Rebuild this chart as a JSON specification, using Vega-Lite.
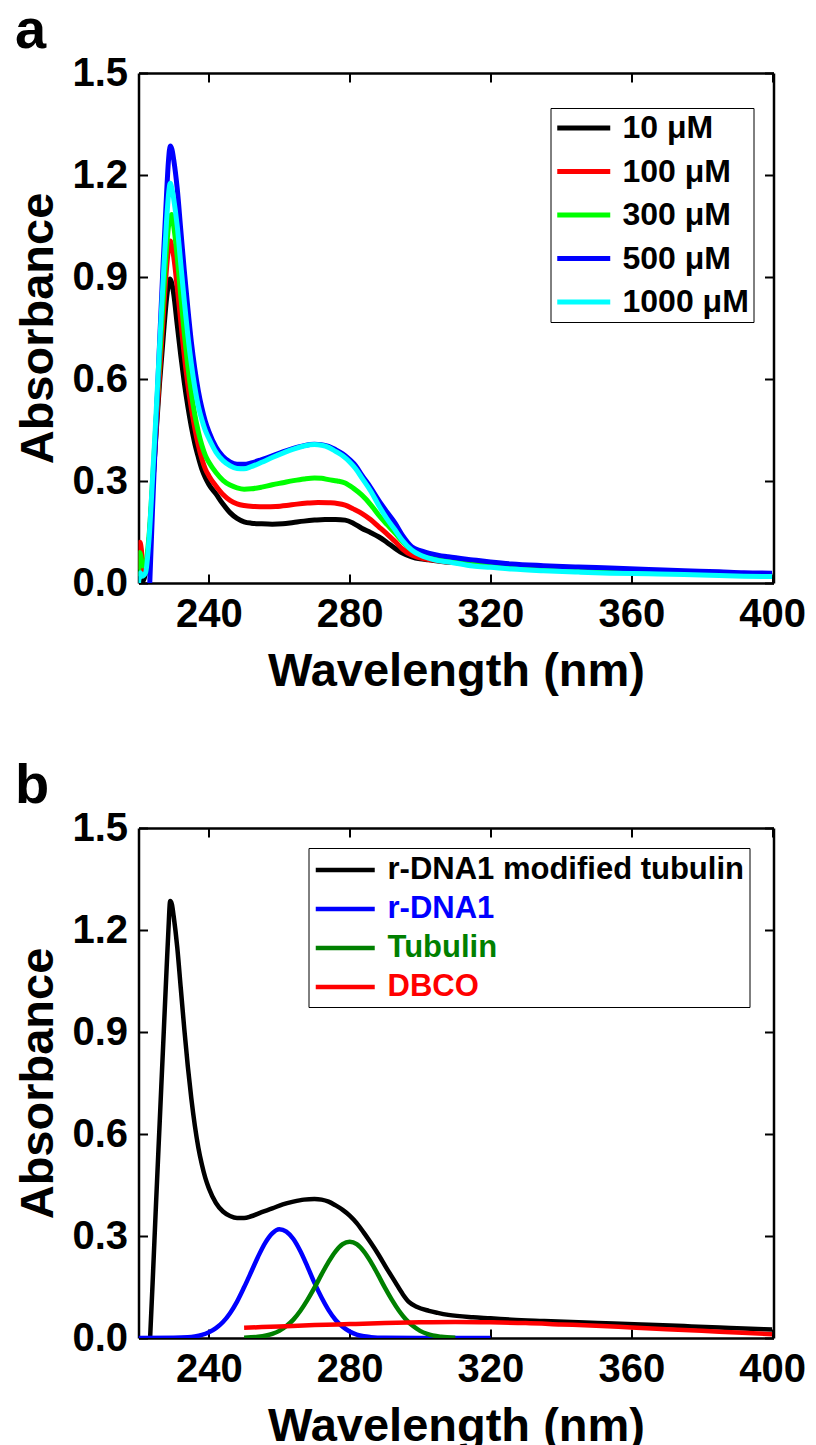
{
  "$schema": "https://vega.github.io/schema/vega-lite/v6.json",
  "padding": {"left": 14.5, "top": 3, "right": 5, "bottom": 0},
  "background": "white",
  "config": {
    "font": "Liberation Sans",
    "view": {"stroke": null},
    "axis": {
      "domainColor": "black", "domainWidth": 2.5, "tickColor": "black", "tickWidth": 2, "tickSize": -9,
      "grid": false, "labelFont": "Liberation Sans", "labelFontSize": 40, "labelFontWeight": "bold", "labelColor": "black",
      "titleFont": "Liberation Sans", "titleFontSize": 47, "titleFontWeight": "bold", "titleColor": "black",
      "labelPadding": 20, "zindex": 1
    },
    "axisX": {"titlePadding": 14, "labelFlush": false},
    "axisY": {"titlePadding": 9},
    "title": {"font": "Liberation Sans", "fontSize": 56, "fontWeight": "bold", "color": "black", "anchor": "start", "frame": "bounds", "offset": -7}
  },
  "resolve": {"scale": {"color": "independent"}, "legend": {"color": "independent"}},
  "spacing": 64,
  "datasets": {
    "a": [
      {"nm":221,"A":0.0,"s":"10 μM"},{"nm":222,"A":0.03,"s":"10 μM"},{"nm":223,"A":0.12,"s":"10 μM"},{"nm":224,"A":0.28,"s":"10 μM"},{"nm":225,"A":0.44,"s":"10 μM"},{"nm":226,"A":0.59,"s":"10 μM"},{"nm":227,"A":0.72,"s":"10 μM"},{"nm":228,"A":0.84,"s":"10 μM"},{"nm":228.6,"A":0.885,"s":"10 μM"},{"nm":229,"A":0.894,"s":"10 μM"},{"nm":229.5,"A":0.88,"s":"10 μM"},{"nm":230,"A":0.85,"s":"10 μM"},{"nm":231,"A":0.76,"s":"10 μM"},{"nm":232,"A":0.67,"s":"10 μM"},{"nm":233,"A":0.59,"s":"10 μM"},{"nm":234,"A":0.52,"s":"10 μM"},{"nm":235,"A":0.46,"s":"10 μM"},{"nm":236,"A":0.41,"s":"10 μM"},{"nm":237,"A":0.37,"s":"10 μM"},{"nm":238,"A":0.335,"s":"10 μM"},{"nm":239,"A":0.31,"s":"10 μM"},{"nm":240,"A":0.29,"s":"10 μM"},{"nm":242,"A":0.262,"s":"10 μM"},{"nm":244,"A":0.232,"s":"10 μM"},{"nm":246,"A":0.207,"s":"10 μM"},{"nm":248,"A":0.19,"s":"10 μM"},{"nm":250,"A":0.18,"s":"10 μM"},{"nm":252,"A":0.176,"s":"10 μM"},{"nm":255,"A":0.174,"s":"10 μM"},{"nm":258,"A":0.173,"s":"10 μM"},{"nm":261,"A":0.174,"s":"10 μM"},{"nm":264,"A":0.178,"s":"10 μM"},{"nm":267,"A":0.182,"s":"10 μM"},{"nm":270,"A":0.185,"s":"10 μM"},{"nm":273,"A":0.187,"s":"10 μM"},{"nm":276,"A":0.187,"s":"10 μM"},{"nm":278.7,"A":0.185,"s":"10 μM"},{"nm":281,"A":0.176,"s":"10 μM"},{"nm":283.4,"A":0.161,"s":"10 μM"},{"nm":286,"A":0.148,"s":"10 μM"},{"nm":288.2,"A":0.136,"s":"10 μM"},{"nm":290.5,"A":0.12,"s":"10 μM"},{"nm":292.9,"A":0.102,"s":"10 μM"},{"nm":295,"A":0.088,"s":"10 μM"},{"nm":297.6,"A":0.077,"s":"10 μM"},{"nm":300,"A":0.071,"s":"10 μM"},{"nm":302.4,"A":0.068,"s":"10 μM"},{"nm":306,"A":0.063,"s":"10 μM"},{"nm":310,"A":0.06,"s":"10 μM"},{"nm":315,"A":0.057,"s":"10 μM"},{"nm":320,"A":0.055,"s":"10 μM"},{"nm":330,"A":0.05,"s":"10 μM"},{"nm":340,"A":0.046,"s":"10 μM"},{"nm":350,"A":0.041,"s":"10 μM"},{"nm":360,"A":0.037,"s":"10 μM"},{"nm":370,"A":0.033,"s":"10 μM"},{"nm":380,"A":0.029,"s":"10 μM"},{"nm":390,"A":0.025,"s":"10 μM"},{"nm":400,"A":0.022,"s":"10 μM"},

      {"nm":220,"A":0.04,"s":"100 μM"},{"nm":220.4,"A":0.12,"s":"100 μM"},{"nm":220.8,"A":0.1,"s":"100 μM"},{"nm":221.2,"A":0.05,"s":"100 μM"},{"nm":221.6,"A":0.03,"s":"100 μM"},{"nm":222,"A":0.04,"s":"100 μM"},{"nm":223,"A":0.12,"s":"100 μM"},{"nm":224,"A":0.28,"s":"100 μM"},{"nm":225,"A":0.45,"s":"100 μM"},{"nm":226,"A":0.62,"s":"100 μM"},{"nm":227,"A":0.78,"s":"100 μM"},{"nm":228,"A":0.93,"s":"100 μM"},{"nm":228.6,"A":0.99,"s":"100 μM"},{"nm":229,"A":1.006,"s":"100 μM"},{"nm":229.5,"A":0.99,"s":"100 μM"},{"nm":230,"A":0.96,"s":"100 μM"},{"nm":231,"A":0.87,"s":"100 μM"},{"nm":232,"A":0.77,"s":"100 μM"},{"nm":233,"A":0.67,"s":"100 μM"},{"nm":234,"A":0.585,"s":"100 μM"},{"nm":235,"A":0.515,"s":"100 μM"},{"nm":236,"A":0.455,"s":"100 μM"},{"nm":237,"A":0.405,"s":"100 μM"},{"nm":238,"A":0.365,"s":"100 μM"},{"nm":239,"A":0.335,"s":"100 μM"},{"nm":240,"A":0.315,"s":"100 μM"},{"nm":242,"A":0.285,"s":"100 μM"},{"nm":244,"A":0.26,"s":"100 μM"},{"nm":246,"A":0.243,"s":"100 μM"},{"nm":248,"A":0.233,"s":"100 μM"},{"nm":250,"A":0.228,"s":"100 μM"},{"nm":253,"A":0.225,"s":"100 μM"},{"nm":256,"A":0.224,"s":"100 μM"},{"nm":259,"A":0.225,"s":"100 μM"},{"nm":262,"A":0.228,"s":"100 μM"},{"nm":265,"A":0.232,"s":"100 μM"},{"nm":268,"A":0.235,"s":"100 μM"},{"nm":271,"A":0.237,"s":"100 μM"},{"nm":274,"A":0.236,"s":"100 μM"},{"nm":276.5,"A":0.234,"s":"100 μM"},{"nm":278.7,"A":0.229,"s":"100 μM"},{"nm":281,"A":0.218,"s":"100 μM"},{"nm":283.4,"A":0.205,"s":"100 μM"},{"nm":286,"A":0.186,"s":"100 μM"},{"nm":288.2,"A":0.166,"s":"100 μM"},{"nm":290.5,"A":0.145,"s":"100 μM"},{"nm":292.9,"A":0.122,"s":"100 μM"},{"nm":295,"A":0.1,"s":"100 μM"},{"nm":297.6,"A":0.082,"s":"100 μM"},{"nm":300,"A":0.074,"s":"100 μM"},{"nm":303,"A":0.068,"s":"100 μM"},{"nm":306,"A":0.064,"s":"100 μM"},{"nm":310,"A":0.06,"s":"100 μM"},{"nm":315,"A":0.057,"s":"100 μM"},{"nm":320,"A":0.054,"s":"100 μM"},{"nm":330,"A":0.049,"s":"100 μM"},{"nm":340,"A":0.045,"s":"100 μM"},{"nm":350,"A":0.04,"s":"100 μM"},{"nm":360,"A":0.036,"s":"100 μM"},{"nm":370,"A":0.032,"s":"100 μM"},{"nm":380,"A":0.028,"s":"100 μM"},{"nm":390,"A":0.024,"s":"100 μM"},{"nm":400,"A":0.021,"s":"100 μM"},

      {"nm":220,"A":0.02,"s":"300 μM"},{"nm":220.4,"A":0.09,"s":"300 μM"},{"nm":220.8,"A":0.07,"s":"300 μM"},{"nm":221.2,"A":0.05,"s":"300 μM"},{"nm":221.6,"A":0.06,"s":"300 μM"},{"nm":222,"A":0.06,"s":"300 μM"},{"nm":223,"A":0.14,"s":"300 μM"},{"nm":224,"A":0.3,"s":"300 μM"},{"nm":225,"A":0.48,"s":"300 μM"},{"nm":226,"A":0.66,"s":"300 μM"},{"nm":227,"A":0.83,"s":"300 μM"},{"nm":228,"A":0.99,"s":"300 μM"},{"nm":228.8,"A":1.07,"s":"300 μM"},{"nm":229.4,"A":1.084,"s":"300 μM"},{"nm":230,"A":1.05,"s":"300 μM"},{"nm":231,"A":0.96,"s":"300 μM"},{"nm":232,"A":0.845,"s":"300 μM"},{"nm":233,"A":0.735,"s":"300 μM"},{"nm":234,"A":0.64,"s":"300 μM"},{"nm":235,"A":0.56,"s":"300 μM"},{"nm":236,"A":0.495,"s":"300 μM"},{"nm":237,"A":0.445,"s":"300 μM"},{"nm":238,"A":0.405,"s":"300 μM"},{"nm":239,"A":0.375,"s":"300 μM"},{"nm":240,"A":0.355,"s":"300 μM"},{"nm":242,"A":0.325,"s":"300 μM"},{"nm":244,"A":0.302,"s":"300 μM"},{"nm":246,"A":0.288,"s":"300 μM"},{"nm":248,"A":0.28,"s":"300 μM"},{"nm":250,"A":0.276,"s":"300 μM"},{"nm":252,"A":0.277,"s":"300 μM"},{"nm":255,"A":0.282,"s":"300 μM"},{"nm":258,"A":0.289,"s":"300 μM"},{"nm":261,"A":0.295,"s":"300 μM"},{"nm":264,"A":0.301,"s":"300 μM"},{"nm":267,"A":0.306,"s":"300 μM"},{"nm":270,"A":0.309,"s":"300 μM"},{"nm":272,"A":0.308,"s":"300 μM"},{"nm":274,"A":0.304,"s":"300 μM"},{"nm":276.5,"A":0.3,"s":"300 μM"},{"nm":278.7,"A":0.294,"s":"300 μM"},{"nm":281,"A":0.279,"s":"300 μM"},{"nm":283.4,"A":0.259,"s":"300 μM"},{"nm":286,"A":0.23,"s":"300 μM"},{"nm":288.2,"A":0.2,"s":"300 μM"},{"nm":290.5,"A":0.173,"s":"300 μM"},{"nm":292.9,"A":0.147,"s":"300 μM"},{"nm":295,"A":0.122,"s":"300 μM"},{"nm":297.6,"A":0.097,"s":"300 μM"},{"nm":300,"A":0.084,"s":"300 μM"},{"nm":303,"A":0.074,"s":"300 μM"},{"nm":306,"A":0.068,"s":"300 μM"},{"nm":310,"A":0.063,"s":"300 μM"},{"nm":315,"A":0.058,"s":"300 μM"},{"nm":320,"A":0.055,"s":"300 μM"},{"nm":330,"A":0.05,"s":"300 μM"},{"nm":340,"A":0.045,"s":"300 μM"},{"nm":350,"A":0.04,"s":"300 μM"},{"nm":360,"A":0.036,"s":"300 μM"},{"nm":370,"A":0.032,"s":"300 μM"},{"nm":380,"A":0.029,"s":"300 μM"},{"nm":390,"A":0.025,"s":"300 μM"},{"nm":400,"A":0.022,"s":"300 μM"},

      {"nm":223.2,"A":0.0,"s":"500 μM"},{"nm":224,"A":0.22,"s":"500 μM"},{"nm":225,"A":0.47,"s":"500 μM"},{"nm":226,"A":0.71,"s":"500 μM"},{"nm":227,"A":0.94,"s":"500 μM"},{"nm":228,"A":1.15,"s":"500 μM"},{"nm":228.5,"A":1.24,"s":"500 μM"},{"nm":229,"A":1.285,"s":"500 μM"},{"nm":229.5,"A":1.275,"s":"500 μM"},{"nm":230,"A":1.245,"s":"500 μM"},{"nm":231,"A":1.16,"s":"500 μM"},{"nm":232,"A":1.04,"s":"500 μM"},{"nm":233,"A":0.92,"s":"500 μM"},{"nm":234,"A":0.81,"s":"500 μM"},{"nm":235,"A":0.71,"s":"500 μM"},{"nm":236,"A":0.63,"s":"500 μM"},{"nm":237,"A":0.565,"s":"500 μM"},{"nm":238,"A":0.515,"s":"500 μM"},{"nm":239,"A":0.475,"s":"500 μM"},{"nm":240,"A":0.445,"s":"500 μM"},{"nm":242,"A":0.4,"s":"500 μM"},{"nm":244,"A":0.372,"s":"500 μM"},{"nm":246,"A":0.356,"s":"500 μM"},{"nm":248,"A":0.349,"s":"500 μM"},{"nm":250,"A":0.349,"s":"500 μM"},{"nm":252,"A":0.353,"s":"500 μM"},{"nm":255,"A":0.363,"s":"500 μM"},{"nm":258,"A":0.374,"s":"500 μM"},{"nm":261,"A":0.386,"s":"500 μM"},{"nm":264,"A":0.396,"s":"500 μM"},{"nm":267,"A":0.404,"s":"500 μM"},{"nm":270,"A":0.408,"s":"500 μM"},{"nm":272,"A":0.407,"s":"500 μM"},{"nm":274,"A":0.402,"s":"500 μM"},{"nm":276,"A":0.392,"s":"500 μM"},{"nm":278,"A":0.38,"s":"500 μM"},{"nm":280,"A":0.363,"s":"500 μM"},{"nm":281.7,"A":0.345,"s":"500 μM"},{"nm":283.4,"A":0.318,"s":"500 μM"},{"nm":286,"A":0.28,"s":"500 μM"},{"nm":288.2,"A":0.244,"s":"500 μM"},{"nm":290.5,"A":0.21,"s":"500 μM"},{"nm":292.9,"A":0.176,"s":"500 μM"},{"nm":295,"A":0.14,"s":"500 μM"},{"nm":297.6,"A":0.107,"s":"500 μM"},{"nm":300,"A":0.095,"s":"500 μM"},{"nm":302.4,"A":0.088,"s":"500 μM"},{"nm":305,"A":0.082,"s":"500 μM"},{"nm":308,"A":0.077,"s":"500 μM"},{"nm":315,"A":0.068,"s":"500 μM"},{"nm":320,"A":0.062,"s":"500 μM"},{"nm":326,"A":0.056,"s":"500 μM"},{"nm":335,"A":0.051,"s":"500 μM"},{"nm":345,"A":0.047,"s":"500 μM"},{"nm":354,"A":0.044,"s":"500 μM"},{"nm":365,"A":0.04,"s":"500 μM"},{"nm":375,"A":0.036,"s":"500 μM"},{"nm":385,"A":0.033,"s":"500 μM"},{"nm":392,"A":0.03,"s":"500 μM"},{"nm":400,"A":0.029,"s":"500 μM"},

      {"nm":220,"A":0.0,"s":"1000 μM"},{"nm":220.5,"A":0.03,"s":"1000 μM"},{"nm":221,"A":0.02,"s":"1000 μM"},{"nm":222,"A":0.03,"s":"1000 μM"},{"nm":223,"A":0.13,"s":"1000 μM"},{"nm":224,"A":0.31,"s":"1000 μM"},{"nm":225,"A":0.5,"s":"1000 μM"},{"nm":226,"A":0.7,"s":"1000 μM"},{"nm":227,"A":0.89,"s":"1000 μM"},{"nm":228,"A":1.07,"s":"1000 μM"},{"nm":228.6,"A":1.15,"s":"1000 μM"},{"nm":229,"A":1.176,"s":"1000 μM"},{"nm":229.5,"A":1.16,"s":"1000 μM"},{"nm":230,"A":1.13,"s":"1000 μM"},{"nm":231,"A":1.05,"s":"1000 μM"},{"nm":232,"A":0.94,"s":"1000 μM"},{"nm":233,"A":0.83,"s":"1000 μM"},{"nm":234,"A":0.73,"s":"1000 μM"},{"nm":235,"A":0.645,"s":"1000 μM"},{"nm":236,"A":0.575,"s":"1000 μM"},{"nm":237,"A":0.52,"s":"1000 μM"},{"nm":238,"A":0.48,"s":"1000 μM"},{"nm":239,"A":0.448,"s":"1000 μM"},{"nm":240,"A":0.425,"s":"1000 μM"},{"nm":242,"A":0.385,"s":"1000 μM"},{"nm":244,"A":0.36,"s":"1000 μM"},{"nm":246,"A":0.345,"s":"1000 μM"},{"nm":248,"A":0.337,"s":"1000 μM"},{"nm":250,"A":0.336,"s":"1000 μM"},{"nm":252,"A":0.342,"s":"1000 μM"},{"nm":255,"A":0.355,"s":"1000 μM"},{"nm":258,"A":0.369,"s":"1000 μM"},{"nm":261,"A":0.382,"s":"1000 μM"},{"nm":264,"A":0.394,"s":"1000 μM"},{"nm":267,"A":0.403,"s":"1000 μM"},{"nm":270,"A":0.407,"s":"1000 μM"},{"nm":272,"A":0.405,"s":"1000 μM"},{"nm":274,"A":0.399,"s":"1000 μM"},{"nm":276,"A":0.387,"s":"1000 μM"},{"nm":278,"A":0.374,"s":"1000 μM"},{"nm":280,"A":0.356,"s":"1000 μM"},{"nm":281.7,"A":0.336,"s":"1000 μM"},{"nm":283.4,"A":0.31,"s":"1000 μM"},{"nm":286,"A":0.27,"s":"1000 μM"},{"nm":288.2,"A":0.229,"s":"1000 μM"},{"nm":290.5,"A":0.19,"s":"1000 μM"},{"nm":292.9,"A":0.156,"s":"1000 μM"},{"nm":295,"A":0.125,"s":"1000 μM"},{"nm":297.6,"A":0.097,"s":"1000 μM"},{"nm":300,"A":0.082,"s":"1000 μM"},{"nm":302.4,"A":0.073,"s":"1000 μM"},{"nm":305,"A":0.066,"s":"1000 μM"},{"nm":308,"A":0.062,"s":"1000 μM"},{"nm":315,"A":0.05,"s":"1000 μM"},{"nm":320,"A":0.046,"s":"1000 μM"},{"nm":326,"A":0.041,"s":"1000 μM"},{"nm":335,"A":0.036,"s":"1000 μM"},{"nm":345,"A":0.032,"s":"1000 μM"},{"nm":354,"A":0.029,"s":"1000 μM"},{"nm":365,"A":0.027,"s":"1000 μM"},{"nm":375,"A":0.025,"s":"1000 μM"},{"nm":385,"A":0.022,"s":"1000 μM"},{"nm":392,"A":0.02,"s":"1000 μM"},{"nm":400,"A":0.019,"s":"1000 μM"}
    ],
    "b": [
      {"nm":223.3,"A":0.0,"s":"r-DNA1 modified tubulin"},{"nm":224,"A":0.16,"s":"r-DNA1 modified tubulin"},{"nm":225,"A":0.4,"s":"r-DNA1 modified tubulin"},{"nm":226,"A":0.63,"s":"r-DNA1 modified tubulin"},{"nm":227,"A":0.86,"s":"r-DNA1 modified tubulin"},{"nm":228,"A":1.09,"s":"r-DNA1 modified tubulin"},{"nm":228.5,"A":1.2,"s":"r-DNA1 modified tubulin"},{"nm":229,"A":1.285,"s":"r-DNA1 modified tubulin"},{"nm":229.5,"A":1.275,"s":"r-DNA1 modified tubulin"},{"nm":230,"A":1.24,"s":"r-DNA1 modified tubulin"},{"nm":231,"A":1.15,"s":"r-DNA1 modified tubulin"},{"nm":232,"A":1.03,"s":"r-DNA1 modified tubulin"},{"nm":233,"A":0.91,"s":"r-DNA1 modified tubulin"},{"nm":234,"A":0.8,"s":"r-DNA1 modified tubulin"},{"nm":235,"A":0.705,"s":"r-DNA1 modified tubulin"},{"nm":236,"A":0.625,"s":"r-DNA1 modified tubulin"},{"nm":237,"A":0.56,"s":"r-DNA1 modified tubulin"},{"nm":238,"A":0.51,"s":"r-DNA1 modified tubulin"},{"nm":239,"A":0.47,"s":"r-DNA1 modified tubulin"},{"nm":240,"A":0.44,"s":"r-DNA1 modified tubulin"},{"nm":242,"A":0.397,"s":"r-DNA1 modified tubulin"},{"nm":244,"A":0.372,"s":"r-DNA1 modified tubulin"},{"nm":246,"A":0.359,"s":"r-DNA1 modified tubulin"},{"nm":248,"A":0.353,"s":"r-DNA1 modified tubulin"},{"nm":250,"A":0.353,"s":"r-DNA1 modified tubulin"},{"nm":252,"A":0.358,"s":"r-DNA1 modified tubulin"},{"nm":255,"A":0.37,"s":"r-DNA1 modified tubulin"},{"nm":258,"A":0.381,"s":"r-DNA1 modified tubulin"},{"nm":261,"A":0.393,"s":"r-DNA1 modified tubulin"},{"nm":264,"A":0.401,"s":"r-DNA1 modified tubulin"},{"nm":267,"A":0.407,"s":"r-DNA1 modified tubulin"},{"nm":270,"A":0.409,"s":"r-DNA1 modified tubulin"},{"nm":272,"A":0.407,"s":"r-DNA1 modified tubulin"},{"nm":274,"A":0.401,"s":"r-DNA1 modified tubulin"},{"nm":276,"A":0.39,"s":"r-DNA1 modified tubulin"},{"nm":278,"A":0.377,"s":"r-DNA1 modified tubulin"},{"nm":280,"A":0.36,"s":"r-DNA1 modified tubulin"},{"nm":282,"A":0.338,"s":"r-DNA1 modified tubulin"},{"nm":284,"A":0.31,"s":"r-DNA1 modified tubulin"},{"nm":286,"A":0.28,"s":"r-DNA1 modified tubulin"},{"nm":288.2,"A":0.245,"s":"r-DNA1 modified tubulin"},{"nm":290.5,"A":0.205,"s":"r-DNA1 modified tubulin"},{"nm":292.9,"A":0.165,"s":"r-DNA1 modified tubulin"},{"nm":295,"A":0.13,"s":"r-DNA1 modified tubulin"},{"nm":296.8,"A":0.106,"s":"r-DNA1 modified tubulin"},{"nm":299,"A":0.092,"s":"r-DNA1 modified tubulin"},{"nm":302.5,"A":0.08,"s":"r-DNA1 modified tubulin"},{"nm":305,"A":0.074,"s":"r-DNA1 modified tubulin"},{"nm":308,"A":0.068,"s":"r-DNA1 modified tubulin"},{"nm":315,"A":0.061,"s":"r-DNA1 modified tubulin"},{"nm":320,"A":0.058,"s":"r-DNA1 modified tubulin"},{"nm":326,"A":0.054,"s":"r-DNA1 modified tubulin"},{"nm":335,"A":0.05,"s":"r-DNA1 modified tubulin"},{"nm":345,"A":0.046,"s":"r-DNA1 modified tubulin"},{"nm":355,"A":0.043,"s":"r-DNA1 modified tubulin"},{"nm":365,"A":0.039,"s":"r-DNA1 modified tubulin"},{"nm":375,"A":0.035,"s":"r-DNA1 modified tubulin"},{"nm":385,"A":0.031,"s":"r-DNA1 modified tubulin"},{"nm":392,"A":0.028,"s":"r-DNA1 modified tubulin"},{"nm":400,"A":0.025,"s":"r-DNA1 modified tubulin"},

      {"nm":220,"A":0.0,"s":"r-DNA1"},{"nm":230,"A":0.0004,"s":"r-DNA1"},{"nm":234,"A":0.002,"s":"r-DNA1"},{"nm":236,"A":0.0045,"s":"r-DNA1"},{"nm":238,"A":0.009,"s":"r-DNA1"},{"nm":240,"A":0.017,"s":"r-DNA1"},{"nm":242,"A":0.029,"s":"r-DNA1"},{"nm":244,"A":0.047,"s":"r-DNA1"},{"nm":246,"A":0.073,"s":"r-DNA1"},{"nm":248,"A":0.107,"s":"r-DNA1"},{"nm":250,"A":0.149,"s":"r-DNA1"},{"nm":252,"A":0.194,"s":"r-DNA1"},{"nm":254,"A":0.24,"s":"r-DNA1"},{"nm":256,"A":0.28,"s":"r-DNA1"},{"nm":258,"A":0.308,"s":"r-DNA1"},{"nm":260,"A":0.32,"s":"r-DNA1"},{"nm":262,"A":0.313,"s":"r-DNA1"},{"nm":264,"A":0.291,"s":"r-DNA1"},{"nm":266,"A":0.255,"s":"r-DNA1"},{"nm":268,"A":0.21,"s":"r-DNA1"},{"nm":270,"A":0.162,"s":"r-DNA1"},{"nm":272,"A":0.119,"s":"r-DNA1"},{"nm":274,"A":0.082,"s":"r-DNA1"},{"nm":276,"A":0.053,"s":"r-DNA1"},{"nm":278,"A":0.033,"s":"r-DNA1"},{"nm":280,"A":0.019,"s":"r-DNA1"},{"nm":282,"A":0.01,"s":"r-DNA1"},{"nm":284,"A":0.005,"s":"r-DNA1"},{"nm":286,"A":0.0025,"s":"r-DNA1"},{"nm":290,"A":0.0005,"s":"r-DNA1"},{"nm":300,"A":0.0,"s":"r-DNA1"},{"nm":320,"A":0.0,"s":"r-DNA1"},

      {"nm":250,"A":0.001,"s":"Tubulin"},{"nm":254,"A":0.0035,"s":"Tubulin"},{"nm":258,"A":0.012,"s":"Tubulin"},{"nm":260,"A":0.021,"s":"Tubulin"},{"nm":262,"A":0.035,"s":"Tubulin"},{"nm":264,"A":0.054,"s":"Tubulin"},{"nm":266,"A":0.08,"s":"Tubulin"},{"nm":268,"A":0.112,"s":"Tubulin"},{"nm":270,"A":0.148,"s":"Tubulin"},{"nm":272,"A":0.187,"s":"Tubulin"},{"nm":274,"A":0.224,"s":"Tubulin"},{"nm":276,"A":0.255,"s":"Tubulin"},{"nm":278,"A":0.276,"s":"Tubulin"},{"nm":280,"A":0.283,"s":"Tubulin"},{"nm":282,"A":0.276,"s":"Tubulin"},{"nm":284,"A":0.255,"s":"Tubulin"},{"nm":286,"A":0.224,"s":"Tubulin"},{"nm":288,"A":0.187,"s":"Tubulin"},{"nm":290,"A":0.148,"s":"Tubulin"},{"nm":292,"A":0.112,"s":"Tubulin"},{"nm":294,"A":0.08,"s":"Tubulin"},{"nm":296,"A":0.054,"s":"Tubulin"},{"nm":298,"A":0.035,"s":"Tubulin"},{"nm":300,"A":0.021,"s":"Tubulin"},{"nm":302,"A":0.012,"s":"Tubulin"},{"nm":306,"A":0.0036,"s":"Tubulin"},{"nm":310,"A":0.0008,"s":"Tubulin"},

      {"nm":250,"A":0.03,"s":"DBCO"},{"nm":260,"A":0.034,"s":"DBCO"},{"nm":270,"A":0.038,"s":"DBCO"},{"nm":280,"A":0.041,"s":"DBCO"},{"nm":290,"A":0.044,"s":"DBCO"},{"nm":300,"A":0.046,"s":"DBCO"},{"nm":310,"A":0.047,"s":"DBCO"},{"nm":320,"A":0.046,"s":"DBCO"},{"nm":330,"A":0.044,"s":"DBCO"},{"nm":340,"A":0.04,"s":"DBCO"},{"nm":350,"A":0.036,"s":"DBCO"},{"nm":360,"A":0.031,"s":"DBCO"},{"nm":370,"A":0.026,"s":"DBCO"},{"nm":380,"A":0.021,"s":"DBCO"},{"nm":390,"A":0.016,"s":"DBCO"},{"nm":400,"A":0.011,"s":"DBCO"}
    ]
  },
  "vconcat": [
    {
      "width": 635,
      "height": 510,
      "title": {"text": "a"},
      "data": {"name": "a"},
      "layer": [
        {
          "mark": {"type": "line", "strokeWidth": 5, "clip": true, "interpolate": "monotone"},
          "encoding": {
            "x": {"field": "nm", "type": "quantitative", "scale": {"domain": [220, 400.4], "nice": false, "zero": false},
                  "axis": {"orient": "bottom", "values": [240, 280, 320, 360, 400], "title": "Wavelength (nm)", "format": "d"}},
            "y": {"field": "A", "type": "quantitative", "scale": {"domain": [0, 1.5], "nice": false},
                  "axis": {"orient": "left", "values": [0, 0.3, 0.6, 0.9, 1.2, 1.5], "format": ".1f", "title": "Absorbance"}},
            "color": {"field": "s", "type": "nominal",
              "scale": {"domain": ["10 μM", "100 μM", "300 μM", "500 μM", "1000 μM"], "range": ["#000000", "#FF0000", "#00FF00", "#0000FF", "#00FFFF"]},
              "legend": {"orient": "none", "legendX": 412, "legendY": 35, "title": null, "symbolType": "M-1,0H3", "symbolSize": 702,
                "symbolStrokeWidth": 5, "labelFontSize": 32, "labelFontWeight": "bold", "labelColor": "black", "labelOffset": 36,
                "strokeColor": "black", "fillColor": "white", "padding": 4, "rowPadding": 11.5, "labelLimit": 400}}
          }
        },
        {
          "mark": {"type": "line", "strokeOpacity": 0},
          "encoding": {
            "x": {"field": "nm", "type": "quantitative", "scale": {"domain": [220, 400.4], "nice": false, "zero": false},
                  "axis": {"orient": "top", "values": [240, 280, 320, 360, 400], "labels": false, "title": null}},
            "y": {"field": "A", "type": "quantitative", "scale": {"domain": [0, 1.5], "nice": false},
                  "axis": {"orient": "right", "values": [0, 0.3, 0.6, 0.9, 1.2, 1.5], "labels": false, "title": null}}
          }
        }
      ],
      "resolve": {"axis": {"x": "independent", "y": "independent"}}
    },
    {
      "width": 635,
      "height": 510,
      "title": {"text": "b"},
      "data": {"name": "b"},
      "layer": [
        {
          "mark": {"type": "line", "strokeWidth": 4.5, "clip": true, "interpolate": "monotone"},
          "encoding": {
            "x": {"field": "nm", "type": "quantitative", "scale": {"domain": [220, 400.4], "nice": false, "zero": false},
                  "axis": {"orient": "bottom", "values": [240, 280, 320, 360, 400], "title": "Wavelength (nm)", "format": "d"}},
            "y": {"field": "A", "type": "quantitative", "scale": {"domain": [0, 1.5], "nice": false},
                  "axis": {"orient": "left", "values": [0, 0.3, 0.6, 0.9, 1.2, 1.5], "format": ".1f", "title": "Absorbance"}},
            "color": {"field": "s", "type": "nominal",
              "scale": {"domain": ["r-DNA1 modified tubulin", "r-DNA1", "Tubulin", "DBCO"], "range": ["#000000", "#0000FF", "#008000", "#FF0000"]},
              "legend": {"orient": "none", "legendX": 170, "legendY": 20, "title": null, "symbolType": "M-1,0H3", "symbolSize": 870,
                "symbolStrokeWidth": 4.5, "labelFontSize": 31, "labelFontWeight": "bold",
                "labelColor": {"expr": "datum.value === 'DBCO' ? '#FF0000' : datum.value === 'Tubulin' ? '#008000' : datum.value === 'r-DNA1' ? '#0000FF' : '#000000'"},
                "labelOffset": 40, "strokeColor": "black", "fillColor": "white", "padding": 5, "rowPadding": 7, "labelLimit": 500}}
          }
        },
        {
          "mark": {"type": "line", "strokeOpacity": 0},
          "encoding": {
            "x": {"field": "nm", "type": "quantitative", "scale": {"domain": [220, 400.4], "nice": false, "zero": false},
                  "axis": {"orient": "top", "values": [240, 280, 320, 360, 400], "labels": false, "title": null}},
            "y": {"field": "A", "type": "quantitative", "scale": {"domain": [0, 1.5], "nice": false},
                  "axis": {"orient": "right", "values": [0, 0.3, 0.6, 0.9, 1.2, 1.5], "labels": false, "title": null}}
          }
        }
      ],
      "resolve": {"axis": {"x": "independent", "y": "independent"}}
    }
  ]
}
